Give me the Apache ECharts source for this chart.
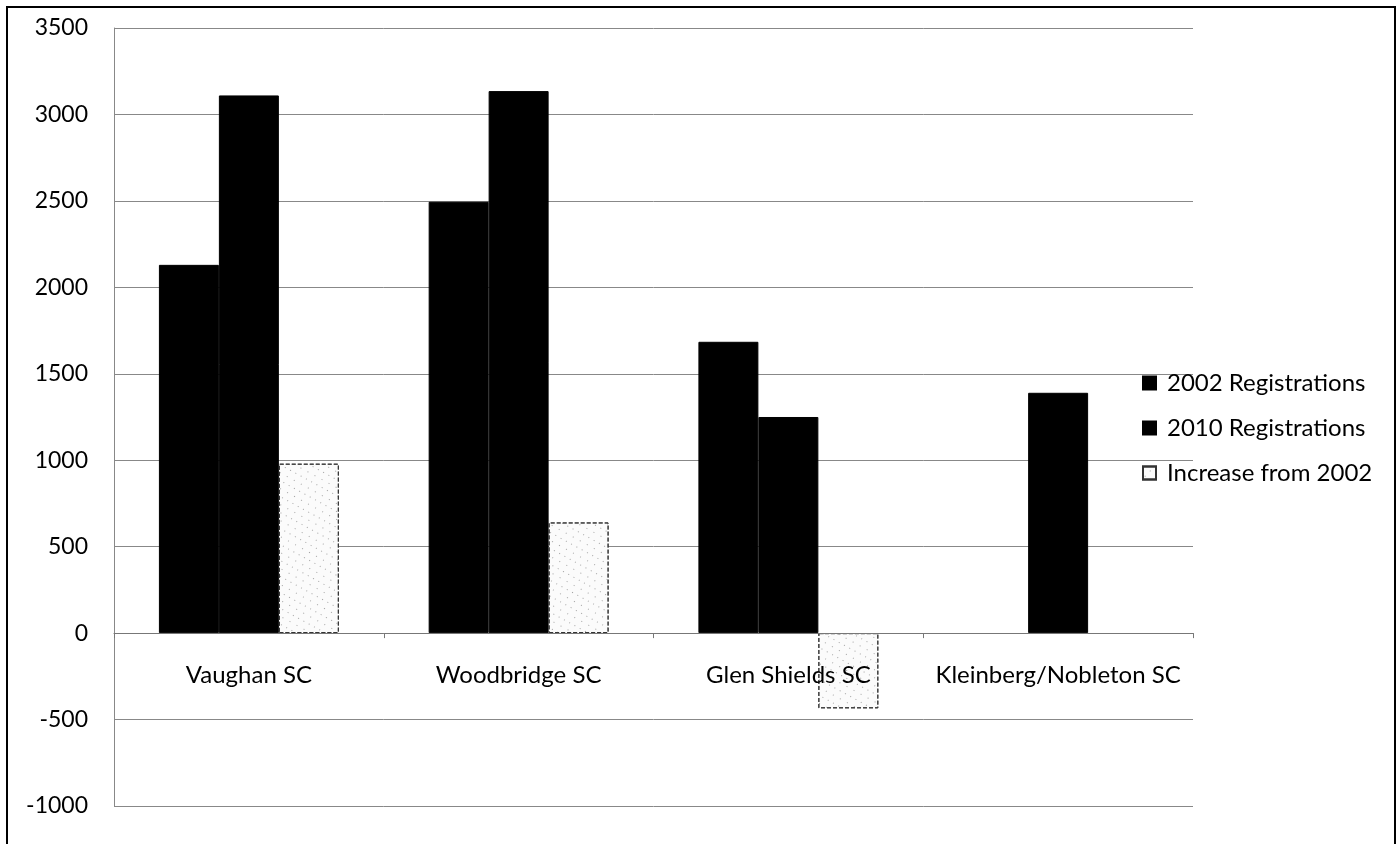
<!DOCTYPE html>
<html>
    <head>
        <title></title>
        <meta charset="UTF-8">
        <style>
            html, body { margin: 0; padding: 0; background: #fff; }
            #chart {
                position: absolute;
                left: 0; top: 0;
                width: 1400px; height: 844px;
            }
            #frame {
                position: absolute;
                left: 6px; top: 6px;
                width: 1390px; height: 844px;
                border-top: 2px solid #000;
                border-left: 2px solid #000;
                border-right: 2px solid #000;
                box-sizing: border-box;
                pointer-events: none;
            }
        </style>
        <script src="https://cdn.jsdelivr.net/npm/echarts@6/dist/echarts.min.js"></script>
    </head>
    <body>
        <div id="chart"></div>
        <div id="frame"></div>
    </body>
    <script>
        // data
        var clubs = ['Vaughan SC', 'Woodbridge SC', 'Glen Shields SC', 'Kleinberg/Nobleton SC'];
        var reg2002 = [2130, 2495, 1685, null];
        var reg2010 = [3110, 3135, 1250, 1390];
        var increase = [980, 640, -435, null];

        var yMin = -1000, yMax = 3500;
        var font = 'Lato, "Open Sans", sans-serif';

        var gridTop = 28, gridBottom = 38, H = 844;
        // move the category axis up to the zero line (labels go with it)
        var plotH = H - gridTop - gridBottom;
        var zeroShift = plotH * (0 - yMin) / (yMax - yMin);

        var chart = echarts.init(document.getElementById('chart'));

        var option = {
            backgroundColor: 'transparent',
            animation: false,
            textStyle: { fontFamily: font },
            grid: { left: 114, right: 207, top: gridTop, bottom: gridBottom, outerBoundsMode: 'none' },
            legend: {
                orient: 'vertical',
                left: 1137,
                top: 366,
                icon: 'rect',
                itemWidth: 13,
                itemHeight: 13,
                itemGap: 21,
                textStyle: { fontSize: 24, color: '#000', fontFamily: font, padding: [0, 0, 0, 6] },
                data: ['2002 Registrations', '2010 Registrations', 'Increase from 2002']
            },
            xAxis: {
                type: 'category',
                data: clubs,
                offset: -zeroShift,
                z: 5,
                axisLine: { onZero: false, lineStyle: { color: '#777', width: 1 } },
                axisTick: { show: true, interval: 0, length: 5, lineStyle: { color: '#777' } },
                axisLabel: { interval: 0, fontSize: 24, color: '#000', margin: 30, fontFamily: font },
                splitLine: { show: false }
            },
            yAxis: {
                type: 'value',
                min: yMin,
                max: yMax,
                interval: 500,
                axisLine: { show: true, lineStyle: { color: '#888' } },
                axisTick: { show: false },
                axisLabel: {
                    fontSize: 23, color: '#000', margin: 26, fontFamily: font,
                    formatter: function (v) { return String(v); }
                },
                splitLine: { show: true, lineStyle: { color: '#888', width: 1 } }
            },
            series: [
                {
                    name: '2002 Registrations',
                    type: 'bar',
                    barGap: '0%',
                    barCategoryGap: '33.3%',
                    itemStyle: { color: '#000', borderColor: '#000', borderWidth: 1 },
                    data: reg2002
                },
                {
                    name: '2010 Registrations',
                    type: 'bar',
                    barGap: '0%',
                    barCategoryGap: '33.3%',
                    itemStyle: { color: '#000', borderColor: '#000', borderWidth: 1 },
                    data: reg2010
                },
                {
                    name: 'Increase from 2002',
                    type: 'bar',
                    barGap: '0%',
                    barCategoryGap: '33.3%',
                    itemStyle: {
                        color: '#fbfbfb',
                        borderColor: '#333',
                        borderWidth: 1,
                        borderType: 'dashed',
                        decal: {
                            symbol: 'circle',
                            symbolSize: 1,
                            color: '#888',
                            dashArrayX: [[1, 5], [1, 7]],
                            dashArrayY: [1, 6],
                            rotation: 0.5
                        }
                    },
                    data: increase
                }
            ]
        };

        chart.setOption(option);
    </script>
</html>
